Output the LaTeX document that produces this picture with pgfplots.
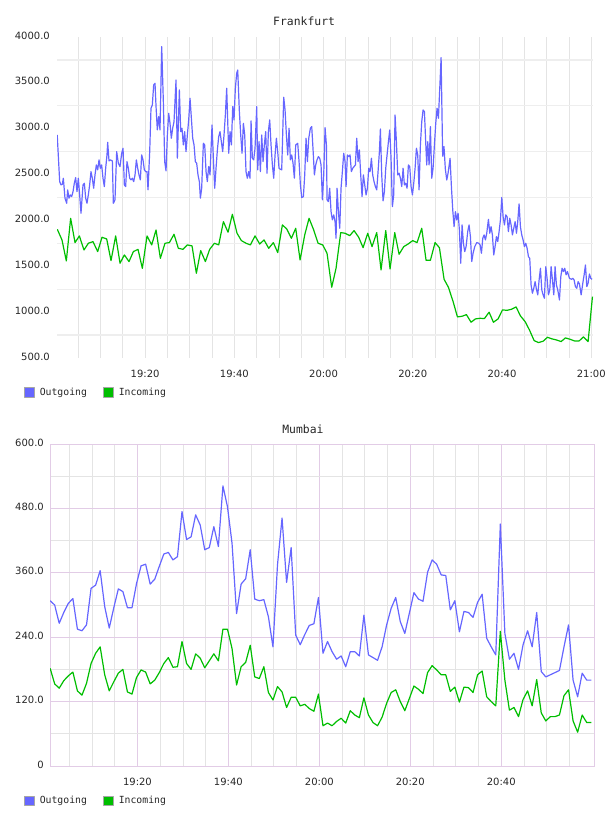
\documentclass[border=0pt]{standalone}
\usepackage{fontspec}
\usepackage{pgfplots}
\pgfplotsset{compat=1.18}
\newfontfamily\dejavu{DejaVu Sans}
\newfontfamily\dejamono{DejaVu Sans Mono}
\definecolor{fblue}{RGB}{102,102,255}
\definecolor{fgreen}{RGB}{0,190,0}
\definecolor{pinkgrid}{RGB}{226,204,230}
\definecolor{vgrid}{RGB}{228,228,228}
\definecolor{hgrid}{RGB}{238,238,238}
\pgfplotsset{
  common/.style={
    scale only axis,
    major tick length=0pt, minor tick length=0pt,
    tick label style={font=\dejavu\fontsize{10bp}{12bp}\selectfont, text=black!85},
    xticklabel style={anchor=base, yshift=-19.5bp, inner sep=0pt},
    yticklabel style={anchor=mid east, inner sep=0pt},
    title style={anchor=base, font=\dejamono\fontsize{11.4bp}{13bp}\selectfont, text=black!85},
    legend columns=2,
    legend style={draw=none, fill=none, inner sep=0pt, outer sep=0pt,
      font=\dejamono\fontsize{9.8bp}{11bp}\selectfont, text=black!85,
      nodes={inner sep=0pt},
      /tikz/every odd column/.append style={column sep=5bp},
      /tikz/every even column/.append style={column sep=16bp}},
  },
  bluesq/.style={legend image code/.code={\draw[draw=gray!70, fill=fblue, line width=0.8bp] (0bp,-4.7bp) rectangle (10bp,4.7bp);}},
  greensq/.style={legend image code/.code={\draw[draw=gray!70, fill=fgreen, line width=0.8bp] (0bp,-4.7bp) rectangle (10bp,4.7bp);}},
}
\begin{document}
\begin{tikzpicture}
\useasboundingbox (0,0) rectangle (608bp,816bp);
% ---------------- Frankfurt ----------------
\begin{axis}[common,
  at={(57bp,458bp)}, anchor=south west, width=536bp, height=321bp,
  xmin=0.25, xmax=120.4, ymin=500, ymax=4000,
  axis line style={draw=none},
  xtick={20,40,60,80,100,120},
  xticklabels={19:20,19:40,20:00,20:20,20:40,21:00},
  minor xtick={5,10,...,120},
  ytick={500,1000,...,4000},
  yticklabels={500.0,1000.0,1500.0,2000.0,2500.0,3000.0,3500.0,4000.0},
  minor ytick={750,1250,...,3750},
  xminorgrids, yminorgrids,
  minor x grid style={color=vgrid, line width=0.8bp},
  minor y grid style={color=hgrid, line width=1.3bp},
  yticklabel style={xshift=-7bp},
  title=Frankfurt, title style={at={(0.461,1)}, yshift=6bp},
  legend style={at={(axis description cs:-0.0616,-0.1075)}, anchor=west},
]
\addplot[fblue, line width=1.2bp, line join=round, bluesq] coordinates {
(0.3,2932)(0.85,2423)(1.15,2387)(1.44,2394)(1.67,2460)(2.04,2242)(2.42,2187)(2.64,2333)(2.94,2242)(3.24,2278)(3.54,2260)(3.84,2314)(4.13,2405)(4.43,2467)(4.73,2314)(5.03,2460)(5.33,2278)(5.63,2078)(6.08,2387)(6.38,2405)(6.68,2242)(6.97,2187)(7.27,2278)(7.57,2387)(7.87,2532)(8.17,2460)(8.47,2351)(8.77,2496)(9.07,2605)(9.37,2551)(9.67,2660)(9.96,2569)(10.26,2605)(10.56,2460)(10.86,2369)(11.16,2569)(11.46,2714)(11.61,2852)(11.91,2649)(12.21,2660)(12.66,2649)(12.88,2187)(13.25,2224)(13.63,2750)(14.0,2623)(14.37,2587)(14.75,2732)(15.05,2787)(15.35,2387)(15.64,2369)(15.94,2641)(16.24,2569)(16.54,2460)(16.84,2442)(17.14,2460)(17.44,2423)(17.74,2496)(18.04,2660)(18.34,2569)(18.63,2496)(18.93,2442)(19.23,2714)(19.53,2660)(19.83,2551)(20.13,2532)(20.43,2532)(20.65,2333)(21.03,2750)(21.32,3223)(21.62,3259)(21.92,3477)(22.22,3495)
(22.45,3241)(22.74,2987)(23.04,3132)(23.34,2987)(23.72,3895)(24.09,3295)(24.39,2641)(24.69,2540)(24.99,2932)(25.29,3168)(25.58,3059)(25.88,2896)(26.18,3005)(26.48,3077)(26.93,3532)(27.23,2678)(27.68,3423)(27.98,2968)(28.27,3005)(28.57,2823)(28.87,2968)(29.17,2750)(29.47,2932)(29.77,3096)(30.07,3332)(30.37,3114)(30.67,2896)(30.97,2823)(31.26,2641)(31.56,2623)(31.86,2496)(32.16,2423)(32.39,2242)(32.68,2351)(33.06,2841)(33.36,2823)(33.66,2532)(33.95,2423)(34.25,2587)(34.55,2496)(35.0,3041)(35.3,2678)(35.6,2351)(35.9,2569)(36.2,2769)(36.5,2914)(36.79,2968)(37.09,2859)(37.39,2750)(37.69,2932)(37.99,3150)(38.29,3441)(38.74,2732)(39.04,2968)(39.34,2823)(39.64,3241)(39.93,3096)(40.23,3441)(40.53,3604)(40.76,3640)(41.13,3186)(41.43,2932)(41.73,2732)(42.03,3059)(42.33,2932)(42.62,2532)(42.92,2460)(43.22,2532)(43.52,2460)
(43.75,3085)(44.04,2678)(44.34,2660)(44.64,2787)(45.02,3241)(45.24,2551)(45.54,2859)(45.84,2532)(46.14,2932)(46.44,2641)(46.73,2823)(47.03,2968)(47.33,2514)(47.63,2968)(47.93,3096)(48.23,2823)(48.53,2605)(48.83,2460)(49.13,2714)(49.43,2896)(49.72,2750)(50.02,2569)(50.32,2558)(50.62,2551)(51.07,3343)(51.37,3205)(51.67,2932)(51.97,2714)(52.27,3005)(52.56,2660)(52.86,2714)(53.16,2623)(53.46,2460)(53.76,2823)(54.21,2841)(54.51,2641)(54.81,2387)(55.11,2249)(55.48,2260)(55.78,2496)(56.08,2896)(56.38,2641)(56.68,2896)(57.05,3005)(57.35,3023)(57.65,2769)(57.95,2496)(58.24,2605)(58.54,2660)(58.84,2696)(59.14,2678)(59.44,2605)(59.74,2224)(60.04,2496)(60.34,3012)(60.64,2823)(60.79,2224)(61.08,2205)(61.38,2351)(61.68,2096)(61.98,2006)(62.28,2060)(62.58,1987)(62.8,1806)(63.03,2351)(63.33,2096)(63.63,1915)(63.92,2351)(64.22,2532)(64.52,2732)(64.82,2641)
(65.05,2369)(65.34,2714)(65.64,2696)(65.94,2714)(66.24,2532)(66.54,2569)(66.84,2587)(67.14,2605)(67.44,2896)(67.74,2641)(68.03,2769)(68.33,2496)(68.63,2260)(68.93,2496)(69.23,2387)(69.53,2278)(69.83,2351)(70.13,2569)(70.43,2532)(70.73,2678)(71.02,2496)(71.32,2423)(71.62,2369)(71.92,2333)(72.22,2532)(72.52,2750)(72.74,2997)(73.04,2496)(73.34,2213)(73.64,2314)(73.94,2569)(74.24,2714)(74.54,2859)(74.84,2987)(75.13,2678)(75.43,2151)(75.73,2278)(76.03,3150)(76.33,2859)(76.63,2496)(76.93,2514)(77.23,2460)(77.53,2369)(77.83,2569)(78.12,2387)(78.42,2405)(78.72,2351)(79.02,2605)(79.32,2587)(79.62,2369)(79.92,2278)(80.22,2405)(80.52,2569)(80.82,2787)(81.11,2714)(81.41,2333)(81.71,2823)(82.01,3077)(82.31,3205)(82.61,3186)(82.91,2841)(83.13,2605)(83.36,2859)(83.66,2605)(83.95,3023)(84.25,2460)(84.55,2569)(84.85,2823)(85.15,3059)(85.45,3223)(85.75,3114)(86.05,3441)(86.35,3775)
(86.7,2700)(87.0,2805)(87.3,2560)(87.62,2441)(87.91,2514)(88.36,2677)(88.66,2369)(88.96,2114)(89.26,1932)(89.56,2096)(89.86,2005)(90.16,2078)(90.45,1896)(90.75,1533)(91.05,1951)(91.35,1751)(91.65,1660)(91.95,1714)(92.32,1878)(92.62,1951)(92.92,1823)(93.22,1551)(93.52,1642)(93.89,1714)(94.34,1758)(94.79,1751)(95.09,1733)(95.39,1642)(95.69,1805)(95.99,1842)(96.28,1787)(96.58,1860)(96.96,2012)(97.26,1860)(97.55,1932)(97.85,1842)(98.15,1624)(98.45,1714)(98.75,1823)(99.05,1769)(99.35,1878)(99.65,2005)(99.95,2250)(100.25,2041)(100.55,1951)(100.84,2060)(101.14,2041)(101.44,1878)(101.74,2023)(102.04,1951)(102.34,1842)(102.64,1914)(102.94,1987)(103.24,1860)(103.53,1987)(103.83,2180)(104.13,1932)(104.43,1842)(104.73,1787)(105.03,1714)(105.33,1751)(105.63,1696)(105.93,1605)(106.22,1587)(106.52,1297)(106.82,1206)(107.12,1260)(107.42,1333)(107.72,1249)(108.02,1188)(108.32,1351)(108.62,1478)(108.92,1242)(109.22,1188)(109.51,1151)(109.81,1496)(110.11,1369)(110.41,1188)(110.71,1242)(111.01,1496)(111.31,1351)(111.61,1188)(111.9,1496)(112.2,1297)(112.5,1242)(112.88,1133)(113.18,1387)(113.47,1478)(113.77,1442)(114.07,1478)(114.37,1406)(114.67,1442)(115.12,1369)(115.57,1358)(115.87,1369)(116.16,1351)(116.46,1278)(116.76,1260)(117.06,1333)(117.36,1308)(117.74,1188)(118.11,1315)(118.41,1406)(118.71,1515)(119.01,1278)(119.3,1315)(119.6,1416)(119.9,1369)(120.2,1358)
};
\addlegendentry{Outgoing}
\addplot[fgreen, line width=1.2bp, line join=round, greensq] coordinates {
(0.32,1903)(1.37,1787)(2.34,1558)(3.31,2023)(4.29,1758)(5.26,1831)(6.3,1678)(7.28,1751)(8.32,1769)(9.37,1660)(10.34,1816)(11.39,1798)(12.36,1562)(13.4,1831)(14.38,1533)(15.35,1624)(16.39,1551)(17.37,1660)(18.41,1685)(19.38,1478)(20.43,1831)(21.48,1733)(22.45,1896)(23.42,1587)(24.46,1751)(25.44,1758)(26.48,1849)(27.45,1696)(28.5,1685)(29.47,1733)(30.52,1722)(31.49,1424)(32.46,1671)(33.51,1551)(34.48,1685)(35.53,1751)(36.5,1733)(37.55,1987)(38.59,1871)(39.56,2067)(40.61,1860)(41.58,1780)(42.63,1751)(43.6,1733)(44.64,1831)(45.69,1743)(46.66,1787)(47.71,1696)(48.75,1758)(49.73,1649)(50.77,1951)(51.75,1907)(52.79,1805)(53.76,1914)(54.74,1569)(55.78,1842)(56.75,2023)(57.79,1896)(58.77,1751)(59.81,1733)(60.78,1642)(61.83,1271)(62.8,1478)(63.85,1867)(64.82,1860)(65.87,1834)(66.84,1889)(67.88,1816)(68.86,1703)(69.9,1860)(70.87,1714)(71.92,1867)(72.89,1460)(73.94,1889)(74.91,1471)(75.96,1867)(76.93,1631)(77.97,1714)(78.95,1743)(79.99,1780)(80.96,1758)(82.01,1914)(82.98,1565)(83.95,1565)(85.0,1758)(85.97,1703)(87.02,1358)(87.99,1271)(89.04,1115)(90.01,948)(91.05,955)(92.02,973)(93.07,890)(94.04,926)(95.09,933)(96.06,930)(97.11,999)(98.08,890)(99.12,926)(100.1,1024)(101.14,1020)(102.11,1031)(103.16,1057)(104.13,959)(105.18,897)(106.15,806)(107.2,690)(108.17,668)(109.22,683)(110.19,726)(111.23,708)(112.2,697)(113.25,679)(114.22,719)(115.27,704)(116.24,686)(117.29,686)(118.26,730)(119.3,679)(120.28,1169)
};
\addlegendentry{Incoming}
\end{axis}
% ---------------- Mumbai ----------------
\begin{axis}[common,
  at={(50bp,50bp)}, anchor=south west, width=544bp, height=322bp,
  xmin=0.77, xmax=120.4, ymin=0, ymax=600,
  axis line style={draw=pinkgrid, line width=1bp},
  xtick={20,40,60,80,100},
  xticklabels={19:20,19:40,20:00,20:20,20:40},
  minor xtick={5,10,15,25,30,35,45,50,55,65,70,75,85,90,95,105,110,115},
  ytick={0,120,...,600},
  yticklabels={0,120.0,240.0,360.0,480.0,600.0},
  minor ytick={60,180,300,420,540},
  xmajorgrids, ymajorgrids, xminorgrids, yminorgrids,
  major grid style={color=pinkgrid, line width=0.8bp},
  minor grid style={color=vgrid, line width=0.8bp},
  yticklabel style={xshift=-6bp},
  title=Mumbai, title style={at={(0.465,1)}, yshift=4.7bp},
  legend style={at={(axis description cs:-0.0478,-0.108)}, anchor=west},
]
\addplot[fblue, line width=1.2bp, line join=round, bluesq] coordinates {
(0.8,308)(1.8,300)(2.8,266)(3.8,286)(4.8,303)(5.8,312)(6.8,255)(7.8,252)(8.8,263)(9.8,331)(10.8,337)(11.8,364)(12.8,297)(13.8,257)(14.8,295)(15.8,330)(16.8,325)(17.8,295)(18.8,295)(19.8,340)(20.8,373)(21.8,376)(22.8,339)(23.8,348)(24.8,372)(25.8,395)(26.8,398)(27.8,384)(28.8,390)(29.8,474)(30.8,422)(31.8,427)(32.8,468)(33.8,449)(34.8,403)(35.8,407)(36.8,446)(37.8,409)(38.8,522)(39.8,483)(40.8,415)(41.8,284)(42.8,339)(43.8,349)(44.8,403)(45.8,311)(46.8,308)(47.8,310)(48.8,278)(49.8,222)(50.8,375)(51.8,462)(52.8,342)(53.8,407)(54.8,244)(55.8,226)(56.8,245)(57.8,262)(58.8,265)(59.8,314)(60.8,210)(61.8,232)(62.8,213)(63.8,199)(64.8,205)(65.8,185)(66.8,213)(67.8,213)(68.8,205)(69.8,281)(70.8,207)(71.8,202)(72.8,197)(73.8,222)(74.8,263)(75.8,294)(76.8,314)(77.8,269)(78.8,247)(79.8,285)(80.8,323)(81.8,311)(82.8,307)(83.8,361)(84.8,384)(85.8,376)(86.8,356)(87.8,355)(88.8,291)(89.8,308)(90.8,250)(91.8,288)(92.8,286)(93.8,277)(94.8,305)(95.8,320)(96.8,238)(97.8,222)(98.8,207)(99.8,451)(100.8,247)(101.8,199)(102.8,210)(103.8,180)(104.8,226)(105.8,252)(106.8,222)(107.8,286)(108.8,176)(109.8,166)(110.8,170)(111.8,174)(112.8,178)(113.8,222)(114.8,263)(115.8,160)(116.8,129)(117.8,173)(118.8,160)(119.8,160)
};
\addlegendentry{Outgoing}
\addplot[fgreen, line width=1.2bp, line join=round, greensq] coordinates {
(0.8,182)(1.8,153)(2.8,145)(3.8,159)(4.8,168)(5.8,175)(6.8,140)(7.8,132)(8.8,154)(9.8,191)(10.8,210)(11.8,222)(12.8,170)(13.8,140)(14.8,157)(15.8,173)(16.8,180)(17.8,138)(18.8,134)(19.8,165)(20.8,179)(21.8,175)(22.8,153)(23.8,160)(24.8,174)(25.8,191)(26.8,202)(27.8,184)(28.8,185)(29.8,232)(30.8,191)(31.8,180)(32.8,209)(33.8,201)(34.8,183)(35.8,196)(36.8,209)(37.8,196)(38.8,255)(39.8,255)(40.8,219)(41.8,151)(42.8,185)(43.8,193)(44.8,225)(45.8,166)(46.8,163)(47.8,185)(48.8,137)(49.8,123)(50.8,148)(51.8,138)(52.8,109)(53.8,128)(54.8,128)(55.8,112)(56.8,115)(57.8,107)(58.8,102)(59.8,134)(60.8,75)(61.8,80)(62.8,75)(63.8,83)(64.8,89)(65.8,80)(66.8,103)(67.8,95)(68.8,90)(69.8,127)(70.8,95)(71.8,81)(72.8,75)(73.8,91)(74.8,117)(75.8,137)(76.8,142)(77.8,120)(78.8,103)(79.8,126)(80.8,149)(81.8,143)(82.8,135)(83.8,174)(84.8,187)(85.8,179)(86.8,170)(87.8,170)(88.8,139)(89.8,147)(90.8,119)(91.8,147)(92.8,146)(93.8,137)(94.8,170)(95.8,177)(96.8,129)(97.8,120)(98.8,112)(99.8,251)(100.8,160)(101.8,104)(102.8,109)(103.8,92)(104.8,124)(105.8,140)(106.8,112)(107.8,161)(108.8,99)(109.8,84)(110.8,92)(111.8,92)(112.8,95)(113.8,131)(114.8,142)(115.8,84)(116.8,63)(117.8,95)(118.8,81)(119.8,81)
};
\addlegendentry{Incoming}
\end{axis}
\end{tikzpicture}
\end{document}
